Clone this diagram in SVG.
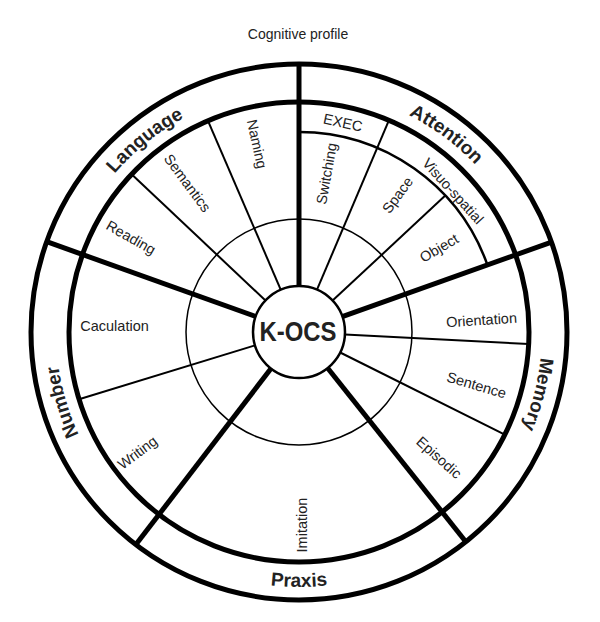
<svg xmlns="http://www.w3.org/2000/svg" width="600" height="622" viewBox="0 0 600 622">
<style>
.thick{stroke:#000;stroke-width:5;fill:none}
.thin{stroke:#000;stroke-width:2;fill:none}
.mid{stroke:#000;stroke-width:1.5;fill:none}
.sub{font-family:"Liberation Sans",Arial,sans-serif;font-size:14.5px;fill:#222;text-anchor:middle}
.cat{font-family:"Liberation Sans",Arial,sans-serif;font-size:19px;font-weight:bold;fill:#222}
</style>
<defs>
<path id="pLang" d="M60.6,284.8 A243,243 0 0,1 304.1,89.05"/>
<path id="pAtt" d="M285,89.4 A243,243 0 0,1 535.5,276.1"/>
<path id="pMem" d="M518.5,227.8 A243,243 0 0,1 439.8,530.1"/>
<path id="pNum" d="M164.9,534.6 A243,243 0 0,1 76.2,235.1"/>
<path id="pPrax" d="M135.1,527.3 A255,255 0 0,0 462.9,527.3"/>
</defs>
<rect width="600" height="622" fill="#fff"/>
<text x="298" y="39" font-family="'Liberation Sans',Arial,sans-serif" font-size="14" fill="#222" text-anchor="middle">Cognitive profile</text>

<g id="rings">
<circle cx="299" cy="332" r="268" class="thick"/>
<circle cx="299" cy="332" r="230" class="thick"/>
<circle cx="299" cy="332" r="113" class="mid"/>
</g>

<g id="connectors">
<line x1="299" y1="286" x2="299" y2="64" class="thick"/>
<line x1="255.7" y1="316.5" x2="46.7" y2="241.7" class="thick"/>
<line x1="342.3" y1="316.6" x2="551.5" y2="242.1" class="thick"/>
<line x1="271" y1="368.5" x2="135.9" y2="544.6" class="thick"/>
<line x1="327.6" y1="368" x2="465.8" y2="541.7" class="thick"/>
<line x1="280.8" y1="289.8" x2="208" y2="120.8" class="thin"/>
<line x1="265.5" y1="300.5" x2="131.6" y2="174.3" class="thin"/>
<line x1="317" y1="289.7" x2="388.9" y2="120.3" class="thin"/>
<line x1="332.6" y1="300.6" x2="445.3" y2="195.6" class="thin"/>
<line x1="344.9" y1="334.4" x2="528.7" y2="344" class="thin"/>
<line x1="340.2" y1="352.5" x2="504.8" y2="434.6" class="thin"/>
<line x1="255" y1="345.4" x2="79.1" y2="399.2" class="thin"/>
<path d="M299,132 A200,200 0 0,1 487.4,264.9" class="thin" style="stroke-width:2.5"/>
</g>

<g id="center">
<circle cx="299" cy="332" r="46" fill="#fff" stroke="#000" stroke-width="2.5"/>
<text x="298" y="341" font-family="'Liberation Sans',Arial,sans-serif" font-size="27" font-weight="bold" fill="#222" text-anchor="middle" textLength="77" lengthAdjust="spacingAndGlyphs">K-OCS</text>
</g>

<g id="language">
<text class="cat"><textPath href="#pLang" startOffset="50%" text-anchor="middle">Language</textPath></text>
<text class="sub" transform="translate(257,144) rotate(77.7)" dy="0.35em">Naming</text>
<text class="sub" transform="translate(187.5,183) rotate(53.4)" dy="0.35em">Semantics</text>
<text class="sub" transform="translate(131,237.5) rotate(29.5)" dy="0.35em">Reading</text>
</g>

<g id="attention">
<text class="cat"><textPath href="#pAtt" startOffset="50%" text-anchor="middle">Attention</textPath></text>
<text class="sub" transform="translate(343,122.5) rotate(12.1)" dy="0.35em">EXEC</text>
<text class="sub" transform="translate(326.5,173.5) rotate(-79.8)" dy="0.35em">Switching</text>
<text class="sub" transform="translate(397.5,195) rotate(-54)" dy="0.35em">Space</text>
<text class="sub" transform="translate(453,191) rotate(47.7)" dy="0.35em">Visuo-spatial</text>
<text class="sub" transform="translate(439,248) rotate(-30.8)" dy="0.35em">Object</text>
</g>

<g id="memory">
<text class="cat"><textPath href="#pMem" startOffset="50%" text-anchor="middle">Memory</textPath></text>
<text class="sub" transform="translate(481.5,320) rotate(-3.7)" dy="0.35em">Orientation</text>
<text class="sub" transform="translate(476.5,385) rotate(16.5)" dy="0.35em">Sentence</text>
<text class="sub" transform="translate(439,457.5) rotate(41.7)" dy="0.35em">Episodic</text>
</g>

<g id="praxis">
<text class="cat"><textPath href="#pPrax" startOffset="50%" text-anchor="middle">Praxis</textPath></text>
<text class="sub" transform="translate(301.5,525) rotate(-90)" dy="0.35em">Imitation</text>
</g>

<g id="number">
<text class="cat"><textPath href="#pNum" startOffset="50%" text-anchor="middle">Number</textPath></text>
<text class="sub" transform="translate(114.5,326)" dy="0.35em">Caculation</text>
<text class="sub" transform="translate(137.5,452.5) rotate(-36.9)" dy="0.35em">Writing</text>
</g>
</svg>
